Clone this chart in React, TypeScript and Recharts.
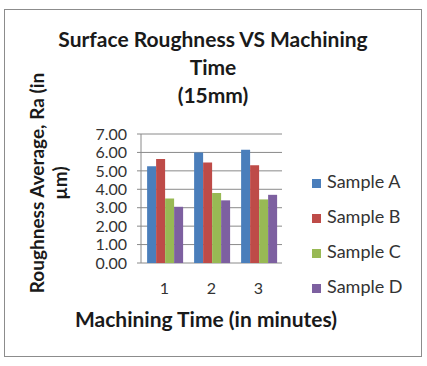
import { BarChart, Bar, XAxis, YAxis, CartesianGrid, Legend, Customized } from 'recharts'

const minutes = ['1', '2', '3']
const sampleA = [5.25, 6.0, 6.15]
const sampleB = [5.65, 5.45, 5.3]
const sampleC = [3.5, 3.8, 3.45]
const sampleD = [3.05, 3.4, 3.7]
const yTicks = [0, 1, 2, 3, 4, 5, 6, 7]

const seriesNames = ['Sample A', 'Sample B', 'Sample C', 'Sample D']
const seriesColors = ['#4a7ebb', '#be4b48', '#98b954', '#7d60a0']

const data = minutes.map((m, i) => ({
  minute: m,
  pos: i + 0.5,
  'Sample A': sampleA[i],
  'Sample B': sampleB[i],
  'Sample C': sampleC[i],
  'Sample D': sampleD[i],
}))

const font = 'Lato, "Open Sans", sans-serif'

function Texts() {
  return (
    <g fontFamily={font} fontWeight={700} fill="#1a1a1a">
      <text x={213} y={47} textAnchor="middle" fontSize={21}>
        Surface Roughness VS Machining
      </text>
      <text x={213} y={75} textAnchor="middle" fontSize={21}>
        Time
      </text>
      <text x={213} y={103} textAnchor="middle" fontSize={21}>
        (15mm)
      </text>
      <text x={206} y={327} textAnchor="middle" fontSize={21}>
        Machining Time (in minutes)
      </text>
      <text x={44} y={183} textAnchor="middle" fontSize={19} transform="rotate(-90 44 183)">
        Roughness Average, Ra (in
      </text>
      <text x={67} y={183} textAnchor="middle" fontSize={19} transform="rotate(-90 67 183)">
        µm)
      </text>
    </g>
  )
}

export default function App() {
  return (
    <div style={{ position: 'absolute', left: 0, top: 0, width: 427, height: 366, background: '#fff' }}>
      <div
        style={{
          position: 'absolute',
          left: 4,
          top: 9,
          width: 418,
          height: 348,
          border: '1.5px solid #8c8c8c',
          boxSizing: 'border-box',
        }}
      />
      <BarChart
        width={427}
        height={366}
        data={data}
        margin={{ top: 134, right: 145, bottom: 73, left: 81 }}
        barCategoryGap="13%"
        barGap={0}
        style={{ position: 'absolute', left: 0, top: 0 }}
      >
        <CartesianGrid vertical={false} stroke="#8a8a8a" strokeWidth={1} />
        <XAxis
          xAxisId="edge"
          type="number"
          dataKey="pos"
          domain={[0, 3]}
          ticks={[0, 1, 2, 3]}
          interval={0}
          height={0}
          tickSize={5}
          tickFormatter={() => ''}
          stroke="#8a8a8a"
        />
        <XAxis
          dataKey="minute"
          height={30}
          interval={0}
          axisLine={false}
          tickLine={false}
          tickSize={0}
          tickMargin={20}
          tick={{ fontSize: 16, fill: '#333', fontFamily: font }}
        />
        <YAxis
          width={60}
          domain={[0, 7]}
          ticks={yTicks}
          interval={0}
          tickFormatter={(v: number) => v.toFixed(2)}
          tickSize={4}
          tickMargin={10}
          stroke="#8a8a8a"
          tick={{ fontSize: 16, fill: '#333', fontFamily: font }}
        />
        {seriesNames.map((name, i) => (
          <Bar key={name} dataKey={name} fill={seriesColors[i]} isAnimationActive={false} />
        ))}
        <Legend
          layout="vertical"
          verticalAlign="middle"
          align="center"
          iconType="square"
          iconSize={9}
          wrapperStyle={{ left: 312, top: 164, width: 115, fontFamily: font, fontSize: 18, lineHeight: '35px' }}
          formatter={(value: string) => <span style={{ color: '#333', marginLeft: 2 }}>{value}</span>}
        />
        <Customized component={Texts} />
      </BarChart>
    </div>
  )
}
